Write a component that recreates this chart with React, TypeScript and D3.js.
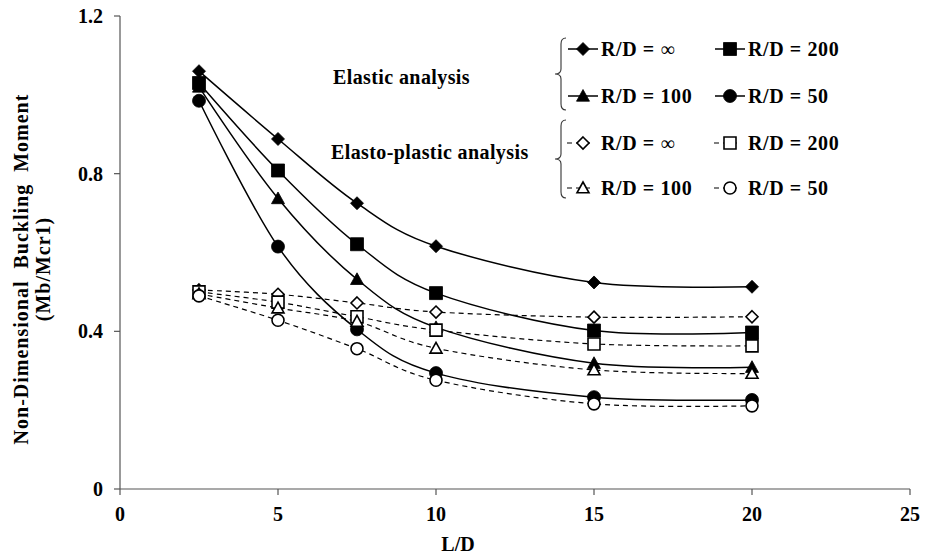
import React from 'react';
import * as d3 from 'd3';

const W = 935;
const H = 558;

const xValues = [2.5, 5, 7.5, 10, 15, 20];
const elasticInf = [1.06, 0.888, 0.725, 0.616, 0.524, 0.513];
const elastic200 = [1.03, 0.808, 0.621, 0.497, 0.402, 0.397];
const elastic100 = [1.02, 0.737, 0.532, 0.41, 0.319, 0.309];
const elastic50 = [0.985, 0.615, 0.405, 0.294, 0.233, 0.226];
const plasticInf = [0.505, 0.494, 0.472, 0.449, 0.436, 0.437];
const plastic200 = [0.5, 0.474, 0.437, 0.403, 0.368, 0.363];
const plastic100 = [0.495, 0.459, 0.425, 0.357, 0.302, 0.293];
const plastic50 = [0.49, 0.428, 0.356, 0.276, 0.216, 0.211];

const xTicks = [0, 5, 10, 15, 20, 25];
const yTicks = [0, 0.4, 0.8, 1.2];

type Shape = 'diamond' | 'square' | 'triangle' | 'circle';

const series = [
  { label: '200', values: elasticInf, shape: 'diamond' as Shape, filled: true, inf: true },
  { label: '200', values: elastic200, shape: 'square' as Shape, filled: true, inf: false },
  { label: '100', values: elastic100, shape: 'triangle' as Shape, filled: true, inf: false },
  { label: '50', values: elastic50, shape: 'circle' as Shape, filled: true, inf: false },
  { label: '∞', values: plasticInf, shape: 'diamond' as Shape, filled: false, inf: true },
  { label: '200', values: plastic200, shape: 'square' as Shape, filled: false, inf: false },
  { label: '100', values: plastic100, shape: 'triangle' as Shape, filled: false, inf: false },
  { label: '50', values: plastic50, shape: 'circle' as Shape, filled: false, inf: false },
];

const x = d3.scaleLinear().domain([0, 25]).range([120, 910]);
const y = d3.scaleLinear().domain([0, 1.2]).range([489, 16]);

const line = d3
  .line<number>()
  .x((d, i) => x(xValues[i]))
  .y(d => y(d))
  .curve(d3.curveCardinal.tension(0));

// marker outline centred at 0,0
function markerPath(shape: Shape, filled: boolean) {
  const r = filled ? 6.5 : 6;
  if (shape === 'diamond') return `M0,${-r}L${r},0L0,${r}L${-r},0Z`;
  if (shape === 'square') return `M${-r},${-r}H${r}V${r}H${-r}Z`;
  return `M0,${-r}L${r},${r * 0.8}H${-r}Z`;
}

function Marker({ shape, filled, cx, cy }: { shape: Shape; filled: boolean; cx: number; cy: number }) {
  const fill = filled ? '#000' : '#fff';
  const sw = filled ? 0.8 : 1.6;
  if (shape === 'circle') {
    return <circle cx={cx} cy={cy} r={filled ? 6.5 : 6} fill={fill} stroke="#000" strokeWidth={sw} />;
  }
  return (
    <path d={markerPath(shape, filled)} transform={`translate(${cx},${cy})`} fill={fill} stroke="#000" strokeWidth={sw} />
  );
}

const font = '"Liberation Serif", "Times New Roman", serif';

const legendRows = [49, 96, 143, 188];
const legendCols = [{ mx: 583, tx: 601 }, { mx: 730, tx: 748 }];

function Brace({ x0, y0, y1 }: { x0: number; y0: number; y1: number }) {
  const mid = (y0 + y1) / 2;
  const d = `M${x0 + 5},${y0} Q${x0},${y0} ${x0},${y0 + 6} L${x0},${mid - 5} Q${x0},${mid} ${x0 - 6},${mid} Q${x0},${mid} ${x0},${mid + 5} L${x0},${y1 - 6} Q${x0},${y1} ${x0 + 5},${y1}`;
  return <path d={d} fill="none" stroke="#333" strokeWidth={1.1} />;
}

export default function App() {
  return (
    <svg width={W} height={H} style={{ position: 'absolute', left: 0, top: 0, background: '#fff' }} fontFamily={font}>
      {/* axes */}
      <line x1={x(0)} x2={x(0)} y1={y(1.2)} y2={y(0)} stroke="#555" strokeWidth={1.2} />
      <line x1={x(0)} x2={x(25)} y1={y(0)} y2={y(0)} stroke="#555" strokeWidth={1.2} />
      {yTicks.map(t => (
        <g key={t}>
          <line x1={x(0) - 6} x2={x(0)} y1={y(t)} y2={y(t)} stroke="#555" strokeWidth={1.2} />
          <text x={103} y={y(t)} dy="0.35em" textAnchor="end" fontSize={20} fontWeight="bold">
            {t === 0 ? '0' : t.toFixed(1)}
          </text>
        </g>
      ))}
      {xTicks.map(t => (
        <g key={t}>
          <line x1={x(t)} x2={x(t)} y1={y(0)} y2={y(0) + 6} stroke="#555" strokeWidth={1.2} />
          <text x={x(t)} y={521} textAnchor="middle" fontSize={20} fontWeight="bold">
            {t}
          </text>
        </g>
      ))}
      <text x={458} y={551} textAnchor="middle" fontSize={20} fontWeight="bold">
        L/D
      </text>
      <text
        transform="translate(28,269) rotate(-90)"
        textAnchor="middle"
        fontSize={20}
        fontWeight="bold"
        letterSpacing={1}
        wordSpacing={6}
      >
        Non-Dimensional Buckling Moment
      </text>
      <text transform="translate(50,269) rotate(-90)" textAnchor="middle" fontSize={20} fontWeight="bold" letterSpacing={1}>
        (Mb/Mcr1)
      </text>

      {/* curves */}
      {series.map((s, i) => (
        <path
          key={'l' + i}
          d={line(s.values) || ''}
          fill="none"
          stroke="#000"
          strokeWidth={s.filled ? 1.5 : 1.2}
          strokeDasharray={s.filled ? undefined : '5,4'}
        />
      ))}
      {series.map((s, i) =>
        s.values.map((v, j) => (
          <Marker key={`m${i}-${j}`} shape={s.shape} filled={s.filled} cx={x(xValues[j])} cy={y(v)} />
        ))
      )}

      {/* legend */}
      <text x={333} y={84} fontSize={20} fontWeight="bold" letterSpacing={0.4}>
        Elastic analysis
      </text>
      <text x={331} y={159} fontSize={20} fontWeight="bold" letterSpacing={0.4}>
        Elasto-plastic analysis
      </text>
      <Brace x0={561} y0={38} y1={110} />
      <Brace x0={561} y0={120} y1={198} />
      {series.map((s, i) => {
        const row = (s.filled ? 0 : 2) + Math.floor((i % 4) / 2);
        const col = legendCols[i % 2];
        const ly = legendRows[row];
        return (
          <g key={'g' + i}>
            {s.filled ? (
              <line x1={col.mx - 15} x2={col.mx + 15} y1={ly} y2={ly} stroke="#000" strokeWidth={1.5} />
            ) : (
              <line x1={col.mx - 16} x2={col.mx + 10} y1={ly} y2={ly} stroke="#000" strokeWidth={1.2} strokeDasharray="5,4" />
            )}
            <Marker shape={s.shape} filled={s.filled} cx={col.mx} cy={ly} />
            <text x={col.tx} y={ly} dy="0.35em" fontSize={20} fontWeight="bold" letterSpacing={0.6}>
              R/D =&nbsp;
              {s.inf ? <tspan fontWeight="normal">∞</tspan> : s.label}
            </text>
          </g>
        );
      })}
    </svg>
  );
}
